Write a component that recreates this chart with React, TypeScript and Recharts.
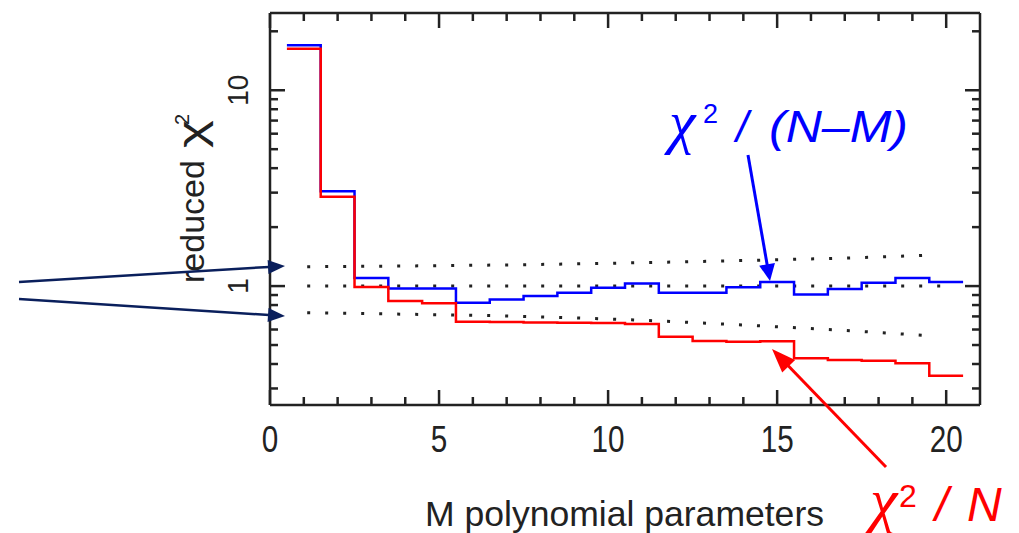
import React from 'react';
import { ComposedChart, Line, XAxis, YAxis } from 'recharts';

// reduced chi^2 vs number of polynomial parameters M
const mParams = [1, 2, 3, 4, 5, 6, 7, 8, 9, 10, 11, 12, 13, 14, 15, 16, 17, 18, 19, 20];
const chi2PerDof = [16.97, 3.05, 1.1, 0.973, 0.973, 0.822, 0.855, 0.889, 0.924, 0.98, 1.03, 0.924, 0.924, 0.985, 1.05, 0.907, 0.965, 1.04, 1.1, 1.05];
const chi2PerN = [16.3, 2.86, 0.99, 0.838, 0.816, 0.657, 0.655, 0.652, 0.65, 0.648, 0.64, 0.551, 0.524, 0.52, 0.522, 0.428, 0.419, 0.416, 0.403, 0.348];

// dotted expectation band
const bandM = [1.1, 3.6, 6.6, 10.3, 14.6, 17.6, 19.6];
const bandUpper = [1.256, 1.265, 1.28, 1.31, 1.358, 1.4, 1.44];
const bandLower = [0.731, 0.72, 0.706, 0.676, 0.625, 0.585, 0.556];
const unityM = [1.1, 20.1];
const unityVal = [1, 1];

const xTicks = [0, 1, 2, 3, 4, 5, 6, 7, 8, 9, 10, 11, 12, 13, 14, 15, 16, 17, 18, 19, 20];
const yTicks = [0.3, 0.4, 0.5, 0.6, 0.7, 0.8, 0.9, 1, 2, 3, 4, 5, 6, 7, 8, 9, 10, 20];

const INK = '#222';
const FONT = '"Liberation Sans", Arial, sans-serif';
const SERIF = '"Liberation Serif", "Times New Roman", serif';
const BLUE = '#0000ff';
const RED = '#ff0000';
const NAVY = '#0a1f5c';

const toSteps = (vals: number[]) => {
  const pts = mParams.map((m, i) => ({ x: m - 0.5, y: vals[i] }));
  pts.push({ x: mParams[mParams.length - 1] + 0.5, y: vals[vals.length - 1] });
  return pts;
};
const toPts = (xs: number[], ys: number[]) => xs.map((x, i) => ({ x, y: ys[i] }));

const isMajorY = (v: number) => Math.abs(Math.log10(v) - Math.round(Math.log10(v))) < 1e-9;

const BottomTick = ({ x, y, payload }: any) => {
  const v = payload.value;
  const major = v % 5 === 0;
  return (
    <g>
      <line x1={x} x2={x} y1={y} y2={y - (major ? 15 : 8)} stroke={INK} strokeWidth={2.5} />
      {major && (
        <text x={x} y={y + 47} textAnchor="middle" fontSize={37} fontFamily={FONT} fill={INK}
          textLength={String(v).length * 16.5} lengthAdjust="spacingAndGlyphs">{v}</text>
      )}
    </g>
  );
};

const TopTick = ({ x, y, payload }: any) => {
  const major = payload.value % 5 === 0;
  return <line x1={x} x2={x} y1={y} y2={y + (major ? 15 : 8)} stroke={INK} strokeWidth={2.5} />;
};

const LeftTick = ({ x, y, payload }: any) => {
  const v = payload.value;
  const major = isMajorY(v);
  return (
    <g>
      <line x1={x} x2={x + (major ? 15 : 8)} y1={y} y2={y} stroke={INK} strokeWidth={2.5} />
      {major && (
        <text x={248} y={y} transform={`rotate(-90 248 ${y})`} textAnchor="middle" fontSize={30}
          fontFamily={FONT} fill={INK} textLength={String(v).length * 15.5}
          lengthAdjust="spacingAndGlyphs">{v}</text>
      )}
    </g>
  );
};

const RightTick = ({ x, y, payload }: any) => {
  const major = isMajorY(payload.value);
  return <line x1={x} x2={x - (major ? 15 : 8)} y1={y} y2={y} stroke={INK} strokeWidth={2.5} />;
};

const Arrow = ({ from, to, color, width, head, half }: any) => {
  const [x1, y1] = from;
  const [x2, y2] = to;
  const len = Math.hypot(x2 - x1, y2 - y1);
  const ux = (x2 - x1) / len;
  const uy = (y2 - y1) / len;
  const bx = x2 - ux * head;
  const by = y2 - uy * head;
  const pts = `${x2},${y2} ${bx - uy * half},${by + ux * half} ${bx + uy * half},${by - ux * half}`;
  return (
    <g>
      <line x1={x1} y1={y1} x2={bx + ux} y2={by + uy} stroke={color} strokeWidth={width} />
      <polygon points={pts} fill={color} />
    </g>
  );
};

const axisStyle = { stroke: INK, strokeWidth: 2.5 };
const yDomain: [number, number] = [0.247, 24.8];

export default function App() {
  return (
    <div style={{ position: 'absolute', left: 0, top: 0, width: 1019, height: 533, background: '#fff' }}>
      <ComposedChart width={1019} height={533} margin={{ top: 12, right: 38, bottom: 127, left: 269 }}>
        <XAxis xAxisId="b" type="number" dataKey="x" domain={[0, 21]} ticks={xTicks} interval={0}
          tickSize={0} tickMargin={0} tickLine={false} tick={BottomTick} axisLine={axisStyle} height={1} allowDataOverflow />
        <XAxis xAxisId="t" orientation="top" type="number" dataKey="x" domain={[0, 21]} ticks={xTicks} interval={0}
          tickSize={0} tickMargin={0} tickLine={false} tick={TopTick} axisLine={axisStyle} height={1} allowDataOverflow />
        <YAxis yAxisId="l" type="number" scale="log" domain={yDomain} ticks={yTicks} interval={0}
          tickSize={0} tickMargin={0} tickLine={false} tick={LeftTick} axisLine={axisStyle} width={1} allowDataOverflow />
        <YAxis yAxisId="r" orientation="right" type="number" scale="log" domain={yDomain} ticks={yTicks} interval={0}
          tickSize={0} tickMargin={0} tickLine={false} tick={RightTick} axisLine={axisStyle} width={1} allowDataOverflow />

        <Line xAxisId="b" yAxisId="l" data={toPts(bandM, bandUpper)} dataKey="y" type="monotone" stroke={INK}
          strokeWidth={3} strokeDasharray="3 15" dot={false} isAnimationActive={false} />
        <Line xAxisId="b" yAxisId="l" data={toPts(unityM, unityVal)} dataKey="y" type="linear" stroke={INK}
          strokeWidth={3} strokeDasharray="3 15" dot={false} isAnimationActive={false} />
        <Line xAxisId="b" yAxisId="l" data={toPts(bandM, bandLower)} dataKey="y" type="monotone" stroke={INK}
          strokeWidth={3} strokeDasharray="3 15" dot={false} isAnimationActive={false} />

        <Line xAxisId="b" yAxisId="l" data={toSteps(chi2PerDof)} dataKey="y" type="stepAfter" stroke={BLUE}
          strokeWidth={2.5} dot={false} isAnimationActive={false} />
        <Line xAxisId="b" yAxisId="l" data={toSteps(chi2PerN)} dataKey="y" type="stepAfter" stroke={RED}
          strokeWidth={2.5} dot={false} isAnimationActive={false} />
      </ComposedChart>

      <svg width={1019} height={533} style={{ position: 'absolute', left: 0, top: 0, pointerEvents: 'none' }}>
        {/* axis titles */}
        <text x={425} y={526} fontSize={35} fontFamily={FONT} fill={INK} textLength={399}
          lengthAdjust="spacingAndGlyphs">M polynomial parameters</text>
        <text x={204} y={283} transform="rotate(-90 204 283)" fontSize={34} fontFamily={FONT} fill={INK}>reduced</text>
        <text x={205} y={148} transform="rotate(-90 205 148)" fontSize={38} fontFamily={FONT} fill={INK}
          textLength={28} lengthAdjust="spacingAndGlyphs">χ</text>
        <text x={189} y={125} transform="rotate(-90 189 125)" fontSize={20} fontFamily={FONT} fill={INK}>2</text>

        {/* blue annotation */}
        <text x={669} y={142} fontSize={60} fontFamily={SERIF} fontStyle="italic" fill={BLUE}>χ</text>
        <text x={703} y={123} fontSize={27} fontFamily={FONT} fill={BLUE}>2</text>
        <text x={736} y={142} fontSize={44} fontFamily={FONT} fontStyle="italic" fill={BLUE}>/</text>
        <text x={769} y={142} fontSize={44} fontFamily={FONT} fontStyle="italic" fill={BLUE} textLength={139}
          lengthAdjust="spacingAndGlyphs">(N–M)</text>
        <Arrow from={[748, 155]} to={[770, 281]} color={BLUE} width={3} head={17} half={8} />

        {/* red annotation */}
        <text x={870} y={521} fontSize={62} fontFamily={SERIF} fontStyle="italic" fill={RED}>χ</text>
        <text x={899} y={507} fontSize={32} fontFamily={FONT} fill={RED}>2</text>
        <text x={935} y={521} fontSize={48} fontFamily={FONT} fontStyle="italic" fill={RED}>/</text>
        <text x={967} y={521} fontSize={48} fontFamily={FONT} fontStyle="italic" fill={RED}>N</text>
        <Arrow from={[886, 467]} to={[772, 349]} color={RED} width={3} head={24} half={9} />

        {/* arrows pointing at the band */}
        <Arrow from={[19, 282]} to={[285, 266]} color={NAVY} width={2.5} head={17} half={7} />
        <Arrow from={[19, 299]} to={[285, 316]} color={NAVY} width={2.5} head={17} half={7} />
      </svg>
    </div>
  );
}
